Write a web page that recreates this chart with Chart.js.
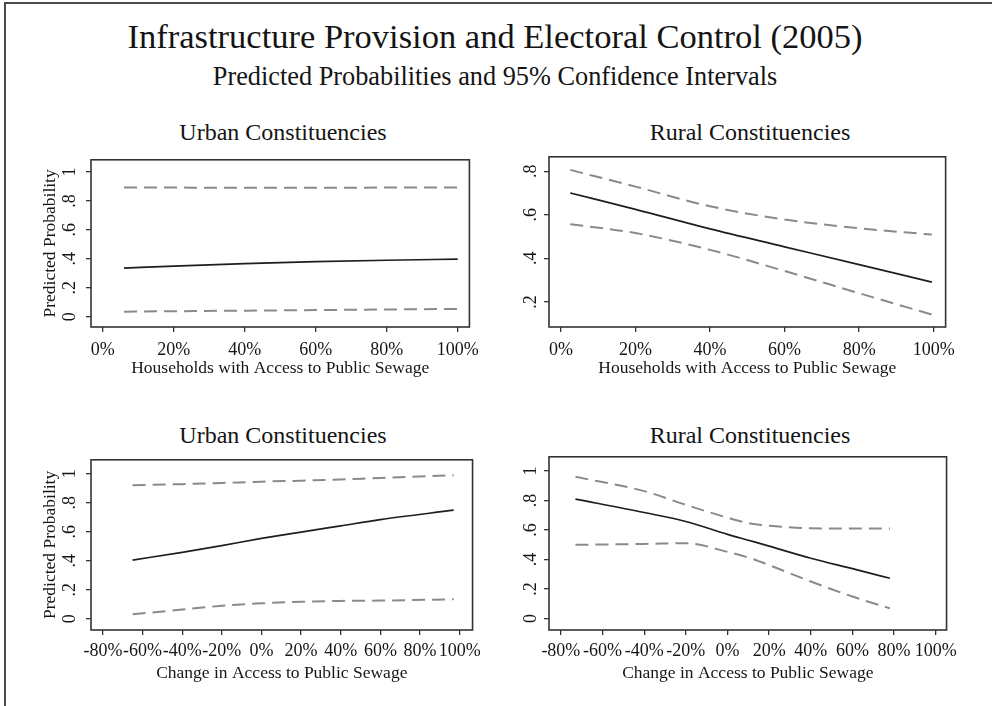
<!DOCTYPE html>
<html>
<head>
<meta charset="utf-8">
<script src="https://cdn.jsdelivr.net/npm/chart.js@4.4.1/dist/chart.umd.min.js"></script>
<style>
  html, body { margin: 0; padding: 0; background: #fff; }
  body { width: 992px; height: 706px; position: relative; overflow: hidden;
         font-family: "Liberation Serif", "Times New Roman", serif; color: #141414; }
  .frame { position: absolute; left: 4px; top: 2px; width: 1000px; height: 720px;
           border-top: 2px solid #4a4a4a; border-left: 2px solid #4a4a4a; }
  .title { position: absolute; text-align: center; white-space: nowrap; }
  #main { left: 0; width: 990px; top: 19px; font-size: 34.5px; line-height: 34px; }
  #sub { left: 0; width: 990px; top: 64px; font-size: 26.3px; line-height: 26px; }
  .ptitle { width: 400px; font-size: 24px; line-height: 24px; }
  canvas { position: absolute; }
</style>
</head>
<body>
<div class="frame"></div>
<div class="title" id="main">Infrastructure Provision and Electoral Control (2005)</div>
<div class="title" id="sub">Predicted Probabilities and 95% Confidence Intervals</div>
<div class="title ptitle" style="left:83px;top:120px">Urban Constituencies</div>
<div class="title ptitle" style="left:550px;top:120px">Rural Constituencies</div>
<div class="title ptitle" style="left:83px;top:423px">Urban Constituencies</div>
<div class="title ptitle" style="left:550px;top:423px">Rural Constituencies</div>
<canvas id="c1" width="450" height="240" style="left:36px;top:140px"></canvas>
<canvas id="c2" width="452" height="240" style="left:510px;top:140px"></canvas>
<canvas id="c3" width="450" height="250" style="left:36px;top:440px"></canvas>
<canvas id="c4" width="452" height="250" style="left:510px;top:440px"></canvas>
<script>
// axis ticks
const sewageTicks = [0, 20, 40, 60, 80, 100];
const sewageTickLabels = ['0%', '20%', '40%', '60%', '80%', '100%'];
const changeTicks = [-80, -60, -40, -20, 0, 20, 40, 60, 80, 100];
const changeTickLabels = ['-80%', '-60%', '-40%', '-20%', '0%', '20%', '40%', '60%', '80%', '100%'];
const probTicks = [0, 0.2, 0.4, 0.6, 0.8, 1];
const probTickLabels = ['0', '.2', '.4', '.6', '.8', '1'];
const ruralProbTicks = [0.2, 0.4, 0.6, 0.8];
const ruralProbTickLabels = ['.2', '.4', '.6', '.8'];

// urban, households with access to public sewage
const urbanSewageX = [6, 20, 40, 60, 80, 100];
const urbanSewageMean = [0.336, 0.350, 0.367, 0.380, 0.390, 0.398];
const urbanSewageUpper = [0.893, 0.892, 0.891, 0.891, 0.892, 0.893];
const urbanSewageLower = [0.035, 0.038, 0.042, 0.046, 0.050, 0.054];

// rural, households with access to public sewage
const ruralSewageX = [2.5, 20, 40, 60, 80, 99.5];
const ruralSewageMean = [0.700, 0.625, 0.535, 0.453, 0.371, 0.291];
const ruralSewageUpper = [0.806, 0.729, 0.639, 0.578, 0.538, 0.509];
const ruralSewageLower = [0.557, 0.516, 0.439, 0.342, 0.240, 0.142];

// urban, change in access to public sewage
const urbanChangeX = [-65, -40, -20, 0, 20, 40, 60, 97];
const urbanChangeMean = [0.405, 0.458, 0.505, 0.554, 0.598, 0.641, 0.684, 0.749];
const urbanChangeUpper = [0.922, 0.929, 0.937, 0.946, 0.953, 0.961, 0.972, 0.990];
const urbanChangeLower = [0.030, 0.063, 0.089, 0.106, 0.117, 0.123, 0.125, 0.134];

// rural, change in access to public sewage
const ruralChangeX = [-73, -40, -20, 0, 10, 20, 40, 60, 78];
const ruralChangeMean = [0.810, 0.719, 0.658, 0.571, 0.531, 0.491, 0.409, 0.338, 0.273];
const ruralChangeUpper = [0.961, 0.864, 0.771, 0.684, 0.647, 0.630, 0.612, 0.610, 0.610];
const ruralChangeLower = [0.500, 0.506, 0.511, 0.452, 0.413, 0.362, 0.251, 0.149, 0.069];

Chart.defaults.font.family = '"Liberation Serif", "Times New Roman", serif';
Chart.defaults.color = '#161616';

const plotBox = {
    id: 'plotBox',
    afterDatasetsDraw(chart) {
        const { ctx, chartArea: a } = chart;
        ctx.save();
        ctx.strokeStyle = '#333';
        ctx.lineWidth = 1.6;
        ctx.strokeRect(a.left, a.top, a.right - a.left, a.bottom - a.top);
        ctx.restore();
    }
};

function pts(xs, ys) {
    return xs.map((x, i) => ({ x: x, y: ys[i] }));
}

function makePanel(id, p) {
    const ds = (ys, dashed) => ({
        data: pts(p.x, ys),
        borderColor: dashed ? '#8a8a8a' : '#1e1e1e',
        borderWidth: dashed ? 2 : 1.7,
        borderDash: dashed ? [13, 7] : [],
        pointRadius: 0,
        cubicInterpolationMode: 'monotone',
        fill: false
    });
    new Chart(document.getElementById(id), {
        type: 'line',
        data: { datasets: [ds(p.upper, true), ds(p.lower, true), ds(p.mean, false)] },
        options: {
            responsive: false,
            animation: false,
            devicePixelRatio: 1,
            layout: { padding: { left: 0, top: 9, right: 10, bottom: 0 } },
            plugins: { legend: { display: false }, tooltip: { enabled: false } },
            scales: {
                x: {
                    type: 'linear', min: p.xMin, max: p.xMax,
                    afterBuildTicks: s => { s.ticks = p.xTicks.map(v => ({ value: v })); },
                    afterFit: s => { s.height = p.xAxisH; },
                    border: { display: false },
                    grid: { drawOnChartArea: false, drawTicks: true, tickLength: 5, color: '#333', lineWidth: 1.3 },
                    ticks: { autoSkip: false, maxRotation: 0, minRotation: 0, padding: p.xTickPad,
                             font: { size: 18 }, callback: (v, i) => p.xLabels[i] },
                    title: { display: true, text: p.xTitle, font: { size: 17.5, lineHeight: 1 },
                             padding: { top: 0, bottom: p.xTitlePad } }
                },
                y: {
                    type: 'linear', min: p.yMin, max: p.yMax,
                    afterBuildTicks: s => { s.ticks = p.yTicks.map(v => ({ value: v })); },
                    afterFit: s => { s.width = p.yAxisW; },
                    border: { display: false },
                    grid: { drawOnChartArea: false, drawTicks: true, tickLength: 5, color: '#333', lineWidth: 1.3 },
                    ticks: { autoSkip: false, minRotation: 90, maxRotation: 90, crossAlign: 'center',
                             padding: p.yTickPad, font: { size: 18 }, callback: (v, i) => p.yLabels[i] },
                    title: { display: !!p.yTitle, text: p.yTitle || '', font: { size: 17.5, lineHeight: 1 },
                             padding: { top: 6, bottom: 0 } }
                }
            }
        },
        plugins: [plotBox]
    });
}

makePanel('c1', {
    x: urbanSewageX, mean: urbanSewageMean, upper: urbanSewageUpper, lower: urbanSewageLower,
    xMin: -3.3, xMax: 103.3, yMin: -0.071, yMax: 1.084,
    xTicks: sewageTicks, xLabels: sewageTickLabels, yTicks: probTicks, yLabels: probTickLabels,
    xTitle: 'Households with Access to Public Sewage', yTitle: 'Predicted Probability',
    yAxisW: 55, xAxisH: 53, xTickPad: 7, yTickPad: 9, xTitlePad: 3
});
makePanel('c2', {
    x: ruralSewageX, mean: ruralSewageMean, upper: ruralSewageUpper, lower: ruralSewageLower,
    xMin: -3.2, xMax: 103.2, yMin: 0.085, yMax: 0.866,
    xTicks: sewageTicks, xLabels: sewageTickLabels, yTicks: ruralProbTicks, yLabels: ruralProbTickLabels,
    xTitle: 'Households with Access to Public Sewage', yTitle: null,
    yAxisW: 39, xAxisH: 53, xTickPad: 7, yTickPad: 6, xTitlePad: 3
});
makePanel('c3', {
    x: urbanChangeX, mean: urbanChangeMean, upper: urbanChangeUpper, lower: urbanChangeLower,
    xMin: -86, xMax: 106.5, yMin: -0.078, yMax: 1.097,
    xTicks: changeTicks, xLabels: changeTickLabels, yTicks: probTicks, yLabels: probTickLabels,
    xTitle: 'Change in Access to Public Sewage', yTitle: 'Predicted Probability',
    yAxisW: 55, xAxisH: 60, xTickPad: 5, yTickPad: 9, xTitlePad: 8
});
makePanel('c4', {
    x: ruralChangeX, mean: ruralChangeMean, upper: ruralChangeUpper, lower: ruralChangeLower,
    xMin: -85.7, xMax: 105.2, yMin: -0.078, yMax: 1.097,
    xTicks: changeTicks, xLabels: changeTickLabels, yTicks: probTicks, yLabels: probTickLabels,
    xTitle: 'Change in Access to Public Sewage', yTitle: null,
    yAxisW: 39, xAxisH: 60, xTickPad: 5, yTickPad: 6, xTitlePad: 8
});
</script>
</body>
</html>
